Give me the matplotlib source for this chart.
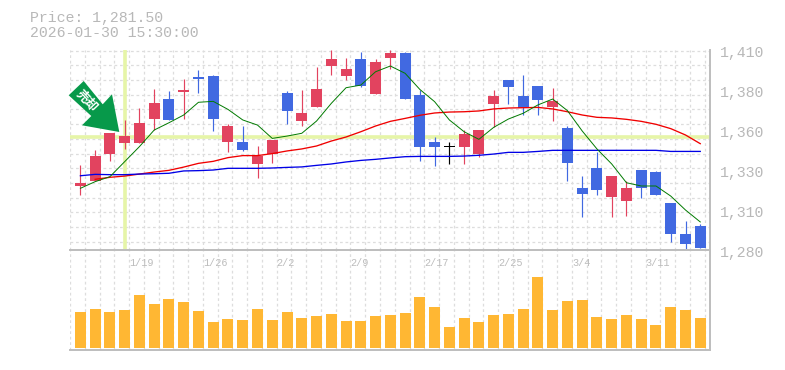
import numpy as np
import matplotlib
matplotlib.use("Agg")
import matplotlib.pyplot as plt
from matplotlib.patches import Polygon

W, H = 785, 370
plt.rcParams['font.family'] = ['Liberation Mono', 'Noto Sans CJK JP']

opens = [1321.3,1324.5,1341.9,1349.0,1349.0,1364.5,1377.4,1381.9,1391.6,1392.3,1349.7,1349.7,1335.5,1341.9,
         1381.3,1363.2,1372.3,1398.7,1392.3,1403.2,1380.6,1403.9,1407.1,1380.0,1349.7,1346.5,1346.5,1341.9,
         1374.2,1389.7,1379.3,1385.8,1372.3,1358.7,1320.0,1332.9,1314.2,1311.6,1331.6,1330.3,1310.3,1290.3,1295.5]
highs = [1334.8,1344.5,1355.3,1363.9,1371.6,1383.9,1382.6,1390.3,1396.1,1392.9,1361.3,1360.0,1347.1,1351.0,
         1382.6,1383.2,1398.1,1409.0,1403.9,1407.7,1403.2,1409.0,1407.7,1383.2,1352.9,1349.7,1357.4,1357.4,
         1383.2,1389.7,1392.9,1385.8,1384.5,1360.0,1327.7,1343.2,1327.7,1324.5,1331.6,1331.0,1310.3,1298.7,1296.8]
lows = [1315.5,1324.5,1337.4,1345.2,1349.0,1357.4,1363.9,1364.5,1381.3,1356.8,1343.2,1343.9,1326.5,1336.1,
        1361.3,1360.0,1372.3,1392.9,1389.7,1385.2,1380.6,1396.8,1377.4,1337.4,1334.2,1335.5,1335.5,1340.0,
        1359.4,1374.2,1367.1,1367.1,1363.2,1324.5,1301.3,1315.5,1301.3,1301.9,1313.5,1315.5,1285.2,1280.6,1281.3]
closes = [1323.2,1340.6,1355.3,1353.5,1361.9,1374.8,1363.9,1383.2,1390.3,1364.5,1360.0,1344.5,1340.6,1351.0,
          1369.7,1368.4,1383.9,1403.2,1396.8,1385.8,1401.3,1407.1,1377.4,1346.5,1346.5,1347.1,1354.8,1357.4,
          1379.3,1385.2,1371.6,1376.8,1376.1,1336.1,1316.1,1318.7,1327.7,1320.0,1320.0,1315.5,1290.3,1283.9,1281.3]
volume = [357,387,357,377,527,437,487,457,367,257,287,277,387,277,357,297,317,337,267,267,317,327,
          347,507,407,207,297,257,327,337,387,707,377,467,477,307,287,327,287,227,407,377,297]
ma_short = [1319.8,1324.1,1327.3,1337.0,1346.7,1357.4,1362.1,1367.1,1375.3,1375.9,1370.7,1363.9,1360.6,1352.0,
            1353.5,1355.3,1363.2,1374.6,1384.7,1386.4,1395.0,1398.7,1394.0,1383.6,1375.7,1363.9,1356.3,1351.4,
            1359.1,1364.5,1368.2,1373.6,1377.4,1369.9,1356.8,1345.2,1335.5,1323.4,1321.3,1321.3,1314.8,1305.8,1298.1]
ma_mid = [np.nan,1325.6,1326.9,1327.7,1329.0,1330.3,1331.4,1333.5,1335.9,1337.2,1339.6,1340.9,1340.9,1342.2,
          1343.9,1345.2,1347.1,1350.3,1352.9,1356.3,1360.0,1363.0,1364.9,1366.9,1368.4,1369.0,1369.2,1369.7,
          1371.0,1371.6,1371.8,1372.0,1371.0,1369.2,1367.1,1365.6,1365.2,1364.3,1363.0,1361.1,1358.3,1354.2,1348.6]
ma_long = [1327.9,1328.8,1328.6,1328.6,1329.0,1329.2,1329.5,1331.0,1331.2,1331.6,1332.7,1332.7,1332.7,1332.9,
           1333.3,1333.6,1334.6,1335.5,1336.8,1337.8,1338.5,1339.4,1340.2,1340.4,1340.4,1340.4,1340.6,1341.1,
           1341.9,1343.0,1343.0,1343.6,1344.3,1344.3,1344.3,1344.3,1344.3,1344.3,1344.3,1344.3,1343.6,1343.6,1343.6]
price_labels = ['1,410', '1,380', '1,360', '1,330', '1,310', '1,280']
price_label_pos = [1408.1, 1382.3, 1356.5, 1330.6, 1304.8, 1279.0]
date_labels = ['1/19', '1/26', '2/2', '2/9', '2/17', '2/25', '3/4', '3/11']
date_label_pos = [3, 8, 13, 18, 23, 28, 33, 38]
trade_index = 3
trade_price = 1353.1
header = ['Price: 1,281.50', '2026-01-30 15:30:00']

RED, BLUE, GOLD = '#e2435f', '#4169e1', '#ffb733'
GRID, AXIS, TXT = '#dddddd', '#bdbdbd', '#b8b8b8'
HILITE = '#e6f5a8'

def fx(px):
    return px / W
def fy(py):
    return 1 - py / H

fig = plt.figure(figsize=(W / 100, H / 100), dpi=100, facecolor='white')
ax = fig.add_axes([fx(70), fy(256), 640 / W, 206 / H], zorder=1)
axv = fig.add_axes([fx(70), fy(350), 640 / W, 100 / H], zorder=2)

n = len(closes)
x = np.arange(n)
xlim = (-0.705, 42.66)
scale = 1.55
grid_x = np.arange(44) - 0.7

ax.set_xlim(*xlim)
ax.set_ylim(1280 - 6 / scale, 1280 + 200 / scale)
for s in ('top', 'left', 'bottom'):
    ax.spines[s].set_visible(False)
ax.spines['right'].set_color(AXIS)
ax.spines['right'].set_linewidth(1.4)
ax.set_xticks([])
ax.yaxis.tick_right()
ax.set_yticks(price_label_pos, price_labels)
ax.tick_params(axis='y', length=0, pad=7.0, labelsize=10.7, labelcolor=TXT)

dash = dict(color=GRID, lw=0.9, linestyles=(0, (2.2, 2.2)), zorder=1)
ax.vlines(grid_x, 1280, 1409, **dash)
ax.hlines(1280 + (250 - (241.7 - 14.7 * np.arange(14))) / scale, *xlim, **dash)

ax.axvline(trade_index, ymin=7 / 206, ymax=1, color=HILITE, lw=2.6, zorder=2)
ax.axhline(trade_price, color=HILITE, lw=2.6, zorder=2)

for i in x:
    o, h, l, c = opens[i], highs[i], lows[i], closes[i]
    col = RED if c > o else BLUE
    if i == 25:
        col = 'black'
    ax.vlines(i, l, h, color=col, lw=0.85, zorder=3)
    b = max(abs(c - o), 0.9)
    ax.bar(i, b, bottom=min(o, c), width=0.745, color=col, lw=0, zorder=3)

ax.plot(x, ma_short, color='#007a00', lw=0.7, zorder=5)
ax.plot(x, ma_mid, color='#f00000', lw=0.95, zorder=4)
ax.plot(x, ma_long, color='#0000e6', lw=0.95, zorder=4)

arrow_px = [(68.7, 95.3), (83.7, 81), (102.7, 104.3), (112, 94.3), (119.3, 132), (82, 125.3), (91.3, 116)]
fig.add_artist(Polygon([(fx(a), fy(b)) for a, b in arrow_px], closed=True, transform=fig.transFigure,
                       fc='#07994a', ec='none', zorder=6))
fig.text(fx(87), fy(101), '売却', color='white', fontsize=9, rotation=-47, fontweight='bold',
         ha='center', va='center', family='Noto Sans CJK JP', zorder=7)

axv.set_xlim(*xlim)
axv.set_ylim(-22, 977)
axv.set_facecolor('white')
axv.vlines(grid_x, -22, 977, **dash)
axv.bar(x, volume, width=0.745, color=GOLD, lw=0, zorder=3)
axv.spines['left'].set_visible(False)
for s in ('right', 'top', 'bottom'):
    axv.spines[s].set_color(AXIS)
    axv.spines[s].set_linewidth(1.4)
axv.set_yticks([])
axv.set_xticks(np.array(date_label_pos) + 0.3, date_labels, ha='left')
axv.tick_params(axis='x', length=0, pad=-66, labelsize=7.3, labelcolor='#bcbcbc')

fig.text(fx(29.5), fy(18), header[0], color=TXT, fontsize=10.7, va='center', ha='left')
fig.text(fx(29.5), fy(32.8), header[1], color=TXT, fontsize=10.7, va='center', ha='left')

fig.savefig('out.png', dpi=100, facecolor='white')
